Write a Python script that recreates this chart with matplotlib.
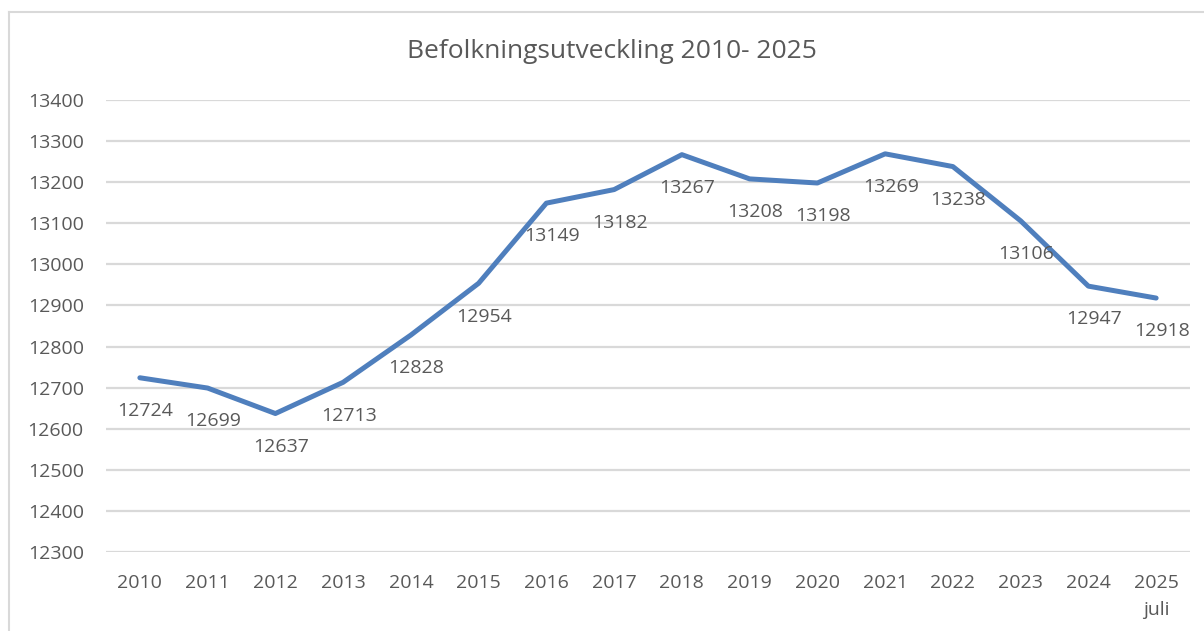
import numpy as np
import matplotlib.pyplot as plt
from matplotlib.lines import Line2D

plt.rcParams['font.family'] = ['Open Sans', 'DejaVu Sans']

years = ['2010', '2011', '2012', '2013', '2014', '2015', '2016', '2017',
         '2018', '2019', '2020', '2021', '2022', '2023', '2024', '2025\njuli']
population = [12724, 12699, 12637, 12713, 12828, 12954, 13149, 13182,
              13267, 13208, 13198, 13269, 13238, 13106, 12947, 12918]
yticks = np.arange(12300, 13401, 100)

txt_col = '#595959'
line_col = '#4f7fbd'

fig = plt.figure(figsize=(12.04, 6.31), dpi=100)
ax = fig.add_axes([106 / 1204, 1 - 552 / 631, (1190 - 106) / 1204, (552 - 100) / 631])

x = np.arange(len(years))
ax.plot(x, population, color=line_col, lw=3.6, solid_capstyle='round',
        solid_joinstyle='round', zorder=3)

for xi, v in zip(x, population):
    ax.annotate(str(v), (xi, v), xytext=(4, -24), textcoords='offset points',
                ha='center', va='center', fontsize=14, color=txt_col, zorder=4)

ax.set_xlim(-0.5, len(years) - 0.5)
ax.set_ylim(12300, 13400)
ax.set_yticks(yticks)
ax.set_yticklabels([str(t) for t in yticks])
ax.set_xticks(x)
ax.set_xticklabels(years, linespacing=1.65)
ax.tick_params(length=0, labelsize=14, labelcolor=txt_col)
ax.tick_params(axis='y', pad=16)
ax.tick_params(axis='x', pad=16)
ax.grid(axis='y', color='#d9d9d9', lw=1.6)
ax.set_axisbelow(True)
for s in ax.spines.values():
    s.set_visible(False)

fig.text(612 / 1204, 1 - 52 / 631, 'Befolkningsutveckling 2010- 2025',
         ha='center', va='center', fontsize=19, color=txt_col)

# chart border (left and top visible)
fig.add_artist(Line2D([9 / 1204, 9 / 1204], [0, 1 - 12 / 631], color='#d9d9d9', lw=1.5))
fig.add_artist(Line2D([9 / 1204, 1], [1 - 12 / 631, 1 - 12 / 631], color='#d9d9d9', lw=1.5))

fig.savefig('out.png', dpi=100)
